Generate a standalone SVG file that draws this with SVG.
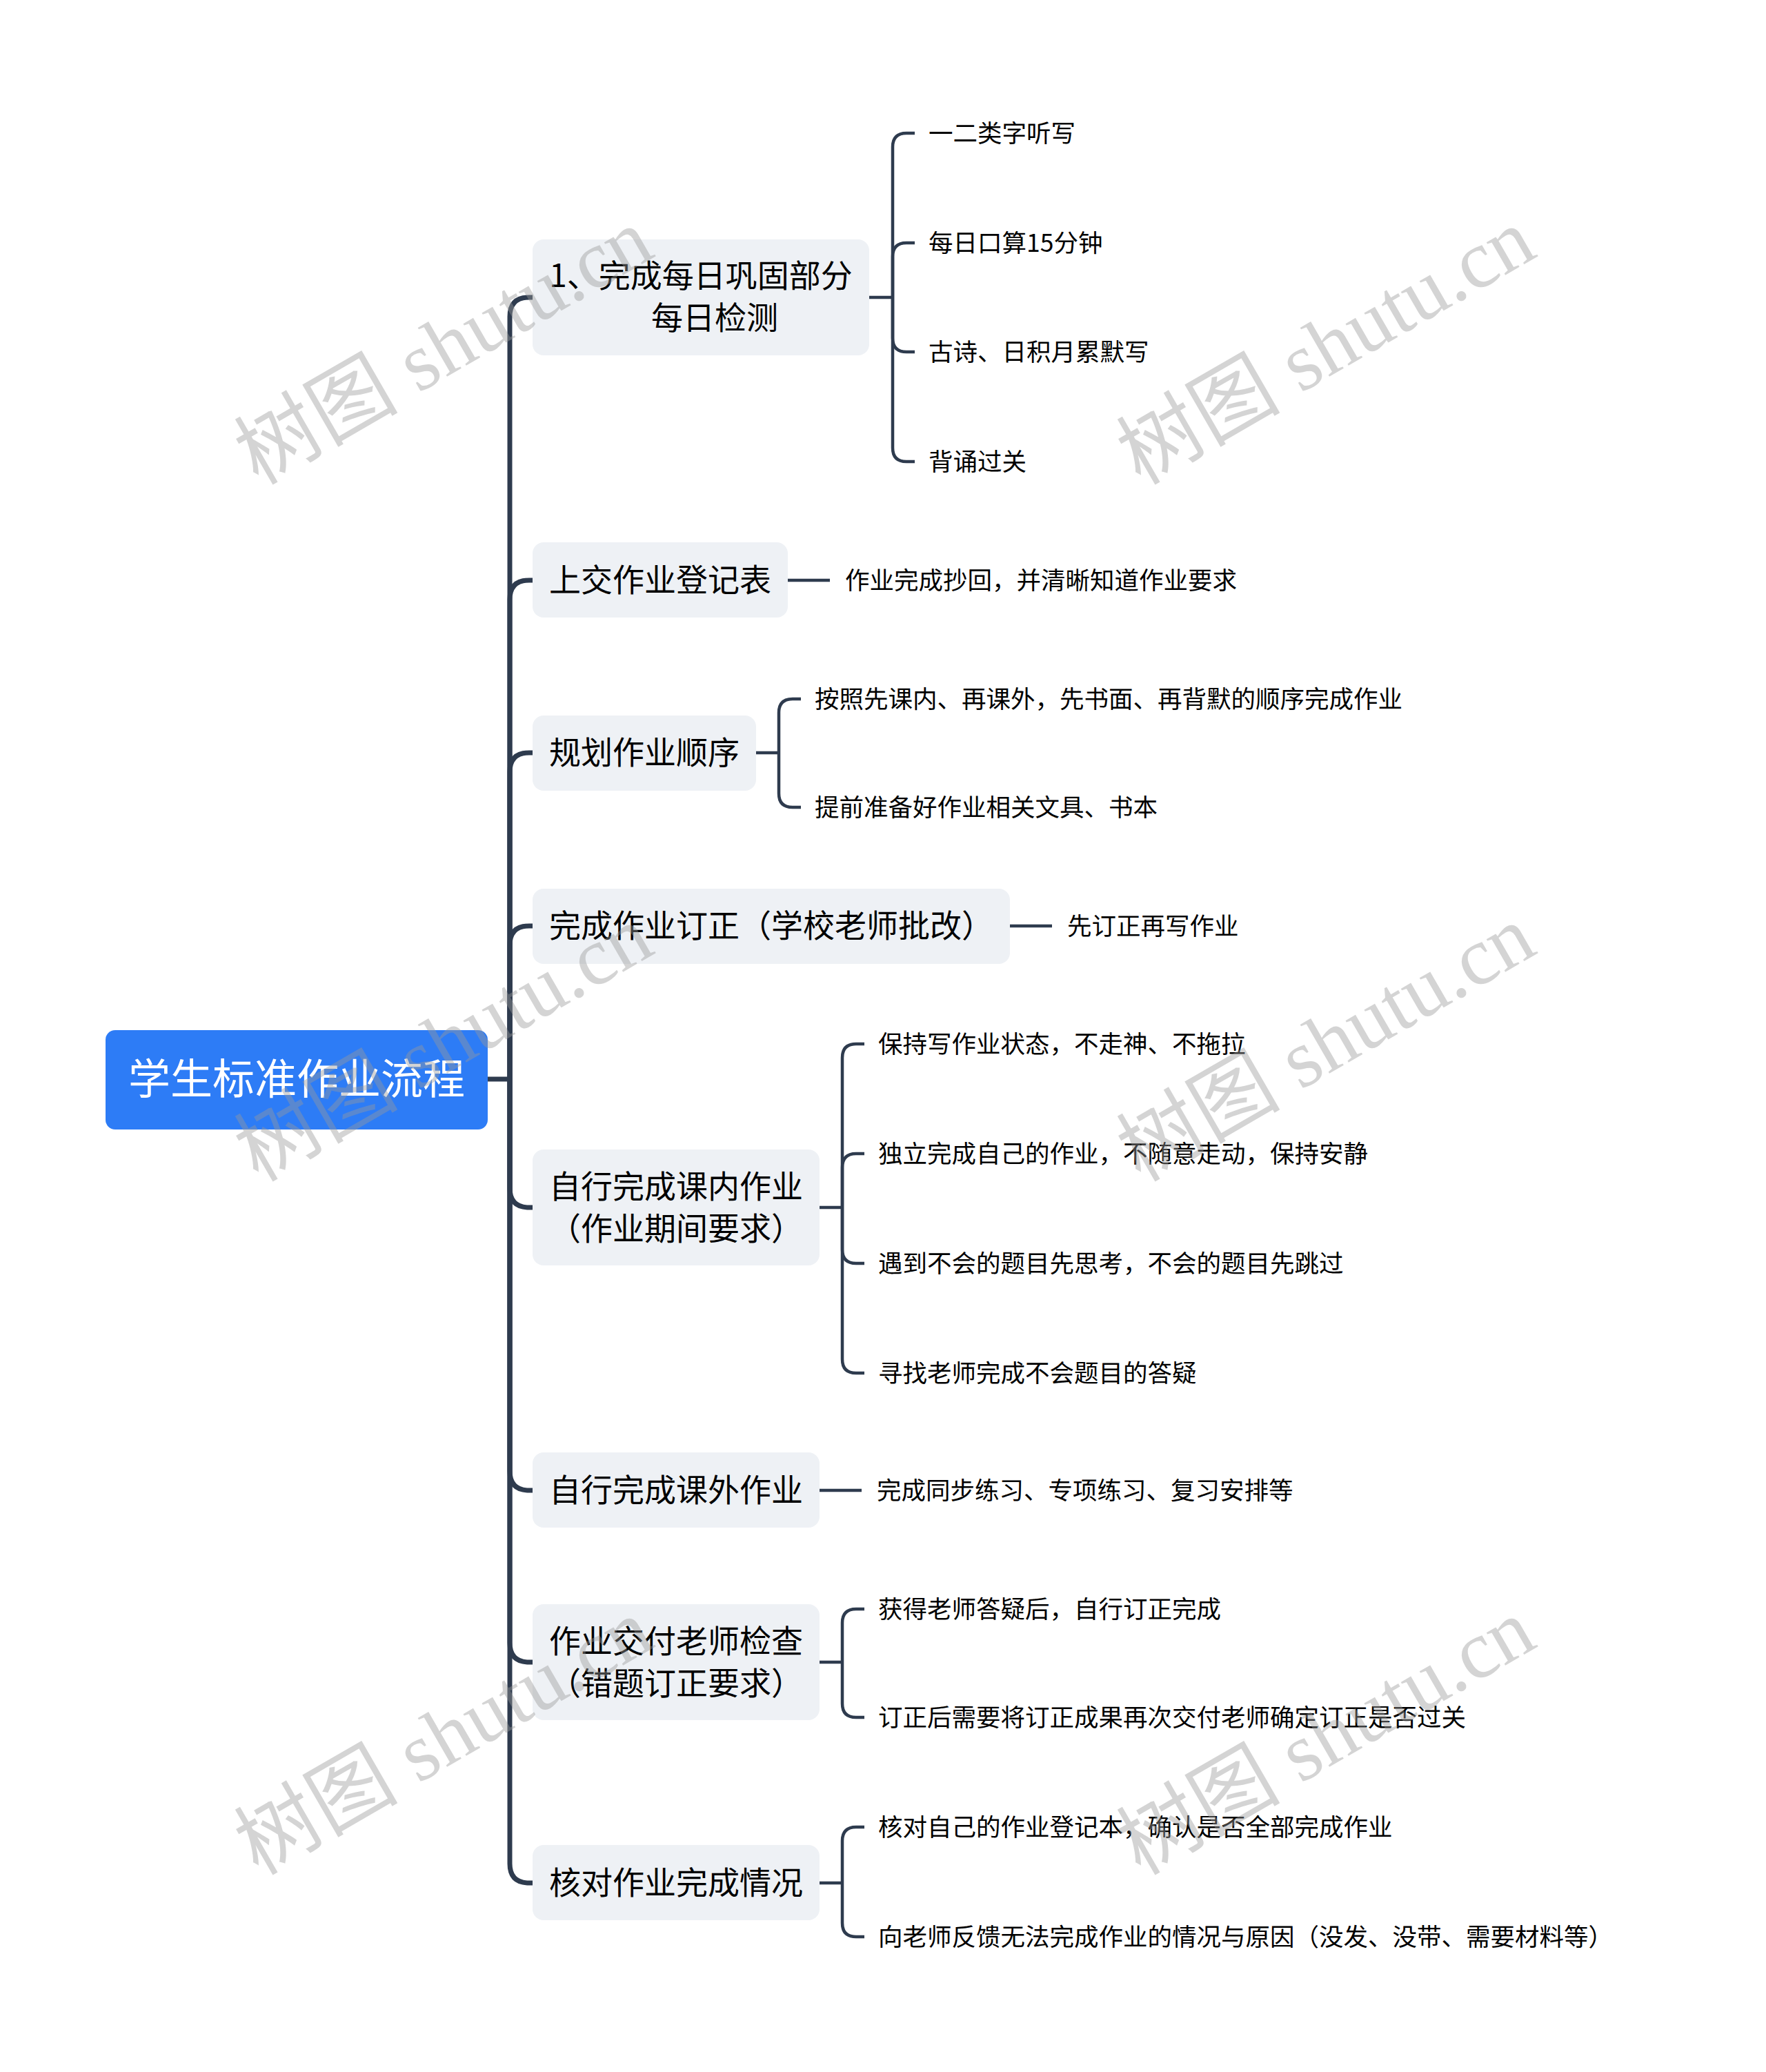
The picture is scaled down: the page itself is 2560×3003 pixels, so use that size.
<svg xmlns="http://www.w3.org/2000/svg" width="2560" height="3003" viewBox="0 0 2560 3003">
<style>
.bg{fill:#ffffff}
.root{fill:#2d7cf6}
.rt{font-family:"Noto Sans CJK SC","Noto Sans",sans-serif;font-size:61px;fill:#ffffff;text-anchor:middle}
.box{fill:#eef1f5}
.t1{font-family:"Noto Sans CJK SC","Noto Sans",sans-serif;font-size:46px;fill:#000000;text-anchor:middle}
.t2{font-family:"Noto Sans CJK SC","Noto Sans",sans-serif;font-size:35.5px;fill:#000000}
.trunk{fill:none;stroke:#2e3b4e;stroke-width:7;stroke-linecap:butt}
.br{fill:none;stroke:#2e3b4e;stroke-width:4.5}
.wm{font-family:"Liberation Serif","Noto Sans CJK SC",serif;font-size:119px;fill:#9a9a9a;opacity:0.42}
</style>
<rect class="bg" x="0" y="0" width="2560" height="3003"/>

<g id="connectors">
  <path class="trunk" d="M707,1564 H739"/>
  <path class="trunk" d="M739,1564 V459 Q739,431 767,431 H772"/>
  <path class="trunk" d="M739,1564 V869 Q739,841 767,841 H772"/>
  <path class="trunk" d="M739,1564 V1119 Q739,1091 767,1091 H772"/>
  <path class="trunk" d="M739,1564 V1370 Q739,1342 767,1342 H772"/>
  <path class="trunk" d="M739,1564 V1722 Q739,1750 767,1750 H772"/>
  <path class="trunk" d="M739,1564 V2132 Q739,2160 767,2160 H772"/>
  <path class="trunk" d="M739,1564 V2381 Q739,2409 767,2409 H772"/>
  <path class="trunk" d="M739,1564 V2701 Q739,2729 767,2729 H772"/>

  <path class="br" d="M1260,431 H1294"/>
  <path class="br" d="M1294,431 V213 Q1294,193 1314,193 H1326"/>
  <path class="br" d="M1294,431 V372 Q1294,352 1314,352 H1326"/>
  <path class="br" d="M1294,431 V490 Q1294,510 1314,510 H1326"/>
  <path class="br" d="M1294,431 V649 Q1294,669 1314,669 H1326"/>

  <path class="br" d="M1142,841 H1203"/>

  <path class="br" d="M1096,1091 H1129"/>
  <path class="br" d="M1129,1091 V1033 Q1129,1013 1149,1013 H1161"/>
  <path class="br" d="M1129,1091 V1150 Q1129,1170 1149,1170 H1161"/>

  <path class="br" d="M1464,1342 H1525"/>

  <path class="br" d="M1188,1750 H1221"/>
  <path class="br" d="M1221,1750 V1533 Q1221,1513 1241,1513 H1253"/>
  <path class="br" d="M1221,1750 V1692 Q1221,1672 1241,1672 H1253"/>
  <path class="br" d="M1221,1750 V1811 Q1221,1831 1241,1831 H1253"/>
  <path class="br" d="M1221,1750 V1970 Q1221,1990 1241,1990 H1253"/>

  <path class="br" d="M1188,2160 H1249"/>

  <path class="br" d="M1188,2409 H1221"/>
  <path class="br" d="M1221,2409 V2352 Q1221,2332 1241,2332 H1253"/>
  <path class="br" d="M1221,2409 V2469 Q1221,2489 1241,2489 H1253"/>

  <path class="br" d="M1188,2729 H1221"/>
  <path class="br" d="M1221,2729 V2668 Q1221,2648 1241,2648 H1253"/>
  <path class="br" d="M1221,2729 V2787 Q1221,2807 1241,2807 H1253"/>
</g>

<g id="root">
  <rect class="root" x="153" y="1493" width="554" height="144" rx="14"/>
  <text class="rt" x="430" y="1586">学生标准作业流程</text>
</g>

<g id="n1">
  <rect class="box" x="772" y="347" width="488" height="168" rx="16"/>
  <text class="t1" x="1016" y="416">1、完成每日巩固部分</text>
  <text class="t1" x="1036" y="477">每日检测</text>
</g>
<g id="n2">
  <rect class="box" x="772" y="786" width="370" height="109" rx="16"/>
  <text class="t1" x="957" y="857">上交作业登记表</text>
</g>
<g id="n3">
  <rect class="box" x="772" y="1037" width="324" height="109" rx="16"/>
  <text class="t1" x="934" y="1107">规划作业顺序</text>
</g>
<g id="n4">
  <rect class="box" x="772" y="1288" width="692" height="109" rx="16"/>
  <text class="t1" x="1118" y="1358">完成作业订正（学校老师批改）</text>
</g>
<g id="n5">
  <rect class="box" x="772" y="1666" width="416" height="168" rx="16"/>
  <text class="t1" x="980" y="1736">自行完成课内作业</text>
  <text class="t1" x="980" y="1797">（作业期间要求）</text>
</g>
<g id="n6">
  <rect class="box" x="772" y="2105" width="416" height="109" rx="16"/>
  <text class="t1" x="980" y="2176">自行完成课外作业</text>
</g>
<g id="n7">
  <rect class="box" x="772" y="2325" width="416" height="168" rx="16"/>
  <text class="t1" x="980" y="2395">作业交付老师检查</text>
  <text class="t1" x="980" y="2456">（错题订正要求）</text>
</g>
<g id="n8">
  <rect class="box" x="772" y="2674" width="416" height="109" rx="16"/>
  <text class="t1" x="980" y="2745">核对作业完成情况</text>
</g>

<g id="leaves">
  <g id="l1a"><text class="t2" x="1346" y="206">一二类字听写</text></g>
  <g id="l1b"><text class="t2" x="1346" y="365">每日口算15分钟</text></g>
  <g id="l1c"><text class="t2" x="1346" y="523">古诗、日积月累默写</text></g>
  <g id="l1d"><text class="t2" x="1346" y="682">背诵过关</text></g>
  <g id="l2a"><text class="t2" x="1225" y="854">作业完成抄回，并清晰知道作业要求</text></g>
  <g id="l3a"><text class="t2" x="1181" y="1026">按照先课内、再课外，先书面、再背默的顺序完成作业</text></g>
  <g id="l3b"><text class="t2" x="1181" y="1183">提前准备好作业相关文具、书本</text></g>
  <g id="l4a"><text class="t2" x="1547" y="1355">先订正再写作业</text></g>
  <g id="l5a"><text class="t2" x="1273" y="1526">保持写作业状态，不走神、不拖拉</text></g>
  <g id="l5b"><text class="t2" x="1273" y="1685">独立完成自己的作业，不随意走动，保持安静</text></g>
  <g id="l5c"><text class="t2" x="1273" y="1844">遇到不会的题目先思考，不会的题目先跳过</text></g>
  <g id="l5d"><text class="t2" x="1273" y="2003">寻找老师完成不会题目的答疑</text></g>
  <g id="l6a"><text class="t2" x="1271" y="2173">完成同步练习、专项练习、复习安排等</text></g>
  <g id="l7a"><text class="t2" x="1273" y="2345">获得老师答疑后，自行订正完成</text></g>
  <g id="l7b"><text class="t2" x="1273" y="2502">订正后需要将订正成果再次交付老师确定订正是否过关</text></g>
  <g id="l8a"><text class="t2" x="1273" y="2661">核对自己的作业登记本，确认是否全部完成作业</text></g>
  <g id="l8b"><text class="t2" x="1273" y="2820">向老师反馈无法完成作业的情况与原因（没发、没带、需要材料等）</text></g>
</g>

<g id="watermarks">
  <text class="wm" transform="translate(374,704) rotate(-30)">树图 shutu.cn</text>
  <text class="wm" transform="translate(1653,704) rotate(-30)">树图 shutu.cn</text>
  <text class="wm" transform="translate(374,1714) rotate(-30)">树图 shutu.cn</text>
  <text class="wm" transform="translate(1653,1714) rotate(-30)">树图 shutu.cn</text>
  <text class="wm" transform="translate(374,2719) rotate(-30)">树图 shutu.cn</text>
  <text class="wm" transform="translate(1653,2719) rotate(-30)">树图 shutu.cn</text>
</g>
</svg>
